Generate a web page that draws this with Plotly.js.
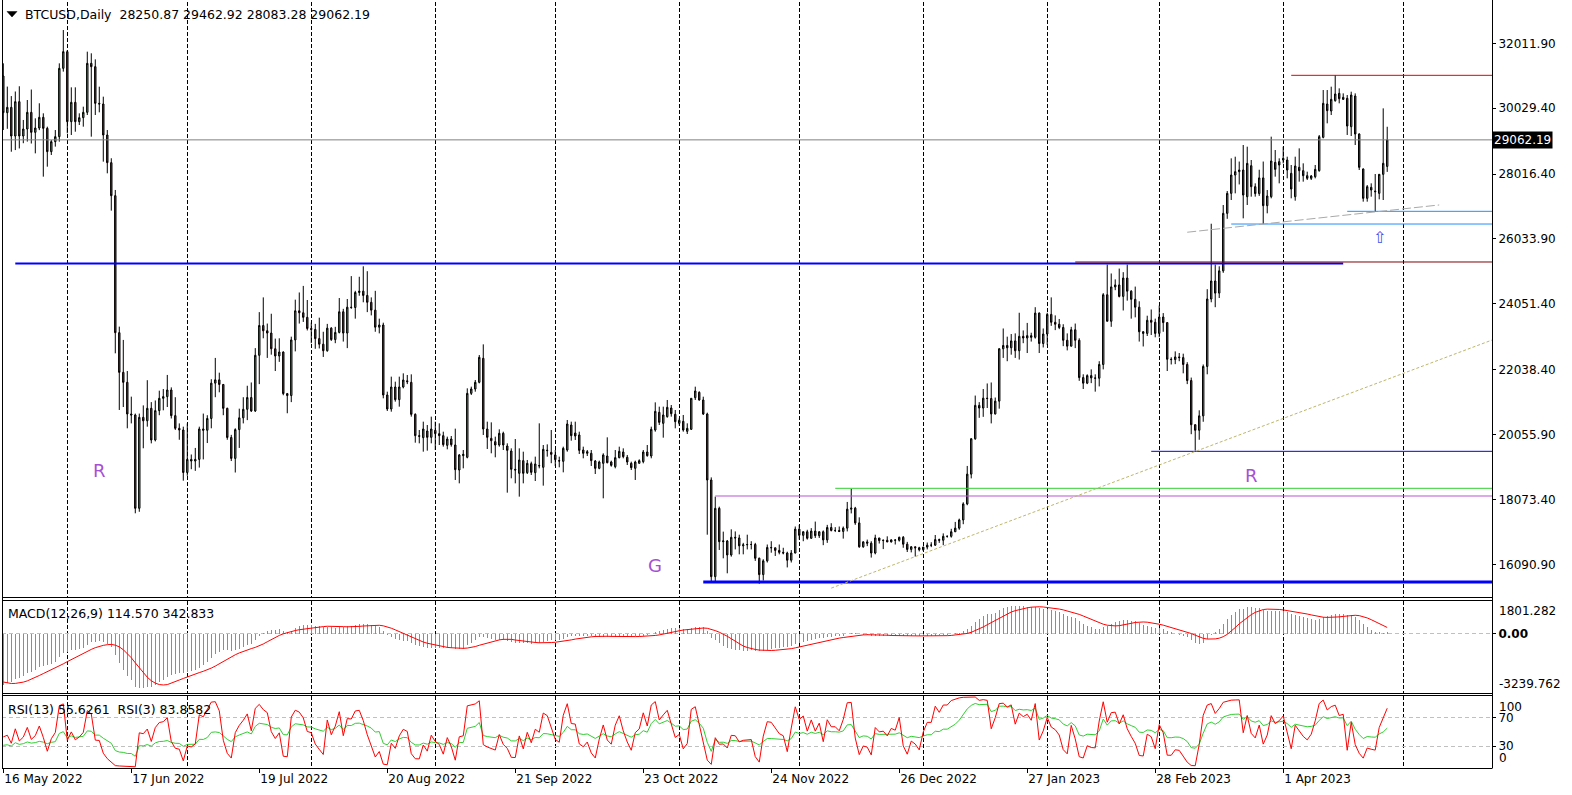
<!DOCTYPE html>
<html><head><meta charset="utf-8">
<script src="https://cdn.plot.ly/plotly-3.0.1.min.js"></script>
<style>html,body{margin:0;padding:0;background:#fff;overflow:hidden}#chart{width:1572px;height:795px}</style>
</head><body><div id="chart"></div>
<script>
// ---------------- DATA ----------------
const symbolTitle = 'BTCUSD,Daily';
const startDate = '2022-05-16';   // first daily bar, one bar per calendar day
const openP = [
31013,29893,30056,29180,30229,29180,29394,29903,29292,29424,
29751,29414,28702,29007,29160,31247,31757,29618,30209,29618,
29740,29903,31400,31298,30178,30158,29211,28366,27357,23172,
21960,21655,20688,20657,17806,20585,20480,20861,19893,20790,
21166,21217,21421,20637,20250,20199,18900,19300,19250,19300,
20230,20190,20550,21630,21730,21590,20860,19970,19330,20210,
20570,20830,21190,20780,22480,23390,23230,23160,22680,22460,
22580,21310,21250,22950,23840,23780,23640,23300,23270,22990,
22820,22620,23310,22960,23180,23810,23160,23950,23940,24400,
24440,24310,24100,23860,23340,23406,21268,20840,21512,21125,
21512,21700,21655,20677,20025,19964,20168,19974,20188,20086,
20025,19730,19923,19740,18976,19414,19364,21318,21451,21655,
22388,20229,19944,19842,19740,20097,19709,19557,18997,18875,
19262,18895,19170,18895,19099,19058,19567,19516,19435,19262,
19241,19587,20351,20107,20046,19587,19486,19486,19251,19027,
19180,19404,19221,19078,19353,19526,19364,19180,19027,19180,
19231,19526,19404,20198,20738,20402,20606,20870,20677,20402,
20463,20158,20219,21186,21349,21115,20687,18671,15718,17805,
16787,16808,16380,16920,16900,16660,16690,16700,16700,16280,
15780,16200,16610,16600,16520,16460,16440,16220,16440,17170,
16980,17090,16890,17110,16970,17090,16840,17220,17130,17130,
17100,17200,17780,17810,17360,16630,16780,16740,16440,16900,
16820,16830,16780,16840,16830,16920,16710,16550,16630,16600,
16540,16620,16680,16680,16850,16830,16950,16950,17090,17200,
17450,17940,18850,19930,20950,20870,21170,21160,20690,21080,
22680,22780,22710,22920,22620,23060,23010,23080,23030,23770,
22840,23130,23730,23490,23430,23330,22940,22760,23260,22940,
21800,21630,21860,21790,21780,22200,24330,23520,24570,24630,
24280,24840,24440,24190,23950,23200,23150,23550,23490,23150,
23650,23480,22360,22350,22430,22410,22200,21710,20360,20190,
20630,22140,24200,24750,24380,25060,26817,27428,27988,28090,
28141,27326,28273,27632,27420,27900,27052,27326,28375,28396,
28446,28446,28039,27326,28223,28121,27968,27887,27937,28121,
29139,30157,29944,30259,30483,30300,30331,29465,30402,29241,
28172,27276,27612,27500,27428,28009,28250.87];
const highP = [
31400,30690,30400,30540,30700,29670,30280,30600,29720,30180,
29873,29465,29058,29363,31400,32418,31808,30667,30667,29873,
30076,31757,31706,31522,30687,30382,29363,28500,27531,23356,
22950,22000,21217,20700,20700,20950,21720,21050,21100,21400,
21450,21880,21500,21200,20400,20300,20400,19450,19650,20300,
20700,20650,21750,22400,21950,21600,20880,20050,20250,20850,
21200,21550,21650,22700,23800,24250,23450,23750,22990,23000,
22600,21330,23050,24180,24400,24600,24170,23480,23440,23630,
23200,23440,23340,23350,24230,23900,24200,24900,24450,24880,
25200,25050,24250,24450,23600,23477,21369,21828,21675,21828,
21929,21879,21899,20707,20198,20453,20351,20606,20453,20402,
20147,19995,20015,20239,19465,19587,21471,21522,21726,22489,
22815,20453,20432,19995,20219,20147,19791,19638,19923,19638,
19536,19282,19231,19384,20402,19740,19760,20198,19587,19384,
19689,20504,20453,20453,20147,19689,19587,19587,19282,19262,
19486,19974,19262,19587,19689,19638,19435,19231,19262,19302,
19587,19740,20300,21043,20911,20911,21115,20962,20809,20555,
20657,20402,21166,21522,21380,21216,20728,18750,18162,17856,
17093,16838,17164,17100,17000,16750,17000,16800,16750,16300,
16250,16700,16800,16600,16700,16600,16480,16530,17250,17300,
17100,17150,17200,17400,17100,17130,17300,17350,17230,17250,
17250,18000,18400,17850,17530,16800,16850,16800,17000,16900,
16850,16950,16860,16860,16940,16960,16780,16650,16640,16630,
16630,16760,16770,16990,16880,17040,16970,17180,17390,17490,
17990,19100,19950,21250,21050,21450,21620,21650,21190,22700,
23300,23050,23130,23150,23780,23240,23470,23170,23950,23790,
23300,23780,24250,23700,23590,23430,23150,23350,23450,23000,
21900,21900,22050,21900,22300,24380,25250,24980,24800,25130,
25020,25250,24470,24580,24130,23220,23690,23880,23600,24000,
23770,23480,22420,22600,22550,22530,22270,21800,20370,20800,
22200,24500,26500,25250,25200,27072,27500,28498,28548,28400,
28905,28854,28447,27734,28150,28400,27530,29160,28752,28498,
28854,28548,28294,28548,28803,28345,28090,27988,28294,29211,
30585,30585,30687,31043,30636,30483,30432,30534,30483,29262,
28192,27683,27734,28019,28019,30025,29462.92];
const lowP = [
29363,29400,28700,28750,28800,28960,29010,28950,28650,29360,
27938,28243,28600,28855,29007,31146,29262,29211,29312,29516,
29465,29822,29160,29822,29903,28396,28040,26900,22541,20810,
20900,20250,20400,17653,17700,19640,20300,19790,19850,20650,
20800,20900,20550,20200,19900,18650,18800,19000,18950,19050,
19300,19800,20250,21200,21350,20650,19900,19250,18900,19650,
20400,20500,20750,20750,21600,23000,22400,22500,22000,22280,
21260,20710,21050,22600,23450,23500,23240,22850,22680,22690,
22430,22590,22920,22850,23150,22900,22700,23900,23600,24300,
24100,23800,23700,23200,23150,21166,20779,20758,21064,20911,
21471,21600,20606,19811,19791,19536,19567,19791,19587,19740,
19689,19608,19689,18671,18569,19027,19333,21268,21369,21624,
20046,19618,19486,19364,19689,19587,18284,18722,18569,18162,
18569,18854,18824,18640,19027,18498,19384,19184,19099,19058,
18905,19536,19872,19893,19465,19333,19404,19099,18854,19000,
18111,19180,19078,19027,19333,19333,19129,18976,18671,19180,
19180,19384,19333,20147,20351,19964,20575,20606,20249,20331,
20147,20076,20198,21115,21094,20657,17000,15565,15570,16533,
16278,15820,16329,16550,16400,16400,16550,16550,16200,15500,
15600,16150,16450,16350,16400,16400,16000,16150,16430,16850,
16800,16850,16880,16900,16900,16680,16750,17100,17080,17080,
16880,17100,17650,17300,16600,16600,16650,16300,16400,16730,
16560,16770,16760,16700,16790,16600,16470,16460,16330,16490,
16500,16550,16620,16660,16750,16680,16910,16910,17080,17150,
17320,17900,18720,19900,20570,20600,20870,20400,20670,20850,
22400,22300,22500,22400,22350,22850,22550,22900,22990,22550,
22720,22800,23380,23250,23280,22760,22630,22750,22700,21700,
21450,21600,21630,21370,21530,22050,23520,23350,24470,24250,
23850,24150,23600,23640,22900,22750,23070,23100,23030,23030,
23200,22000,22200,22210,22300,21930,21600,20070,19570,19900,
20450,21900,24100,23950,24230,25000,26650,27225,27428,27700,
26665,27072,27327,27327,27350,26492,26818,27276,27938,27734,
28345,27887,27276,27204,27785,27785,27836,27836,27887,28090,
29109,29567,29821,30229,30178,30280,29211,29180,28905,28141,
27174,27174,27327,26868,27245,27225,28083.28];
const closeP = [
29893,30056,29180,30229,29180,29394,29903,29292,29424,29751,
29414,28702,29007,29160,31247,31757,29618,30209,29618,29740,
29903,31400,31298,30178,30158,29211,28366,27357,23172,21960,
21655,20688,20657,17806,20585,20480,20861,19893,20790,21166,
21217,21421,20637,20250,20199,18900,19300,19250,19300,20230,
20190,20550,21630,21730,21590,20860,19970,19330,20210,20570,
20830,21190,20780,22480,23390,23230,23160,22680,22460,22580,
21310,21250,22950,23840,23780,23640,23300,23270,22990,22820,
22620,23310,22960,23180,23810,23160,23950,23940,24400,24440,
24310,24100,23860,23340,23406,21268,20840,21512,21125,21512,
21726,21675,20677,20025,20005,20229,19974,20229,20086,20025,
19750,19923,19750,18987,19435,19455,21318,21451,21655,22418,
20229,19974,19872,19740,20097,19740,19577,18997,18976,19282,
18875,19180,18905,19160,19110,19608,19577,19455,19292,19251,
19638,20382,20025,20015,19577,19486,19536,19262,19027,19221,
19435,19200,19119,19353,19547,19384,19221,19048,19221,19262,
19526,19414,20219,20768,20432,20657,20891,20697,20453,20494,
20198,20249,21166,21390,21115,20687,18671,15718,17805,16787,
16808,16380,16920,16900,16660,16690,16700,16700,16280,15780,
16200,16610,16600,16520,16460,16440,16220,16440,17170,16980,
17090,16890,17110,16970,17090,16840,17220,17130,17130,17100,
17200,17780,17810,17360,16630,16780,16740,16440,16900,16820,
16830,16780,16840,16830,16920,16710,16550,16630,16600,16540,
16620,16680,16680,16850,16830,16950,16950,17090,17200,17450,
17940,18850,19930,20950,20870,21170,21160,20690,21080,22680,
22780,22710,22920,22620,23060,23010,23080,23030,23770,22840,
23130,23730,23490,23430,23330,22940,22760,23260,22940,21800,
21630,21860,21790,21780,22200,24330,23520,24570,24630,24280,
24840,24440,24190,23950,23200,23150,23550,23490,23150,23650,
23480,22360,22350,22430,22410,22200,21710,20360,20190,20630,
22140,24200,24750,24380,25060,26817,27428,27988,28090,28141,
27377,28344,27632,27420,27900,27052,27347,28416,28161,28294,
28497,28141,27561,28263,28121,27968,27887,27958,28161,29160,
30178,29954,30300,30463,30320,30361,29485,30432,29241,28223,
27276,27632,27530,27479,28009,28345,29062.19];

// date-axis labels
const dateTickDates = ['2022-05-16','2022-06-17','2022-07-19','2022-08-20','2022-09-21','2022-10-23','2022-11-24','2022-12-26','2023-01-27','2023-02-28','2023-04-01'];
const dateTickLabels = ['16 May 2022','17 Jun 2022','19 Jul 2022','20 Aug 2022','21 Sep 2022','23 Oct 2022','24 Nov 2022','26 Dec 2022','27 Jan 2023','28 Feb 2023','1 Apr 2023'];
// price-axis labels
const priceTicks = [32011.90,30029.40,28016.40,26033.90,24051.40,22038.40,20055.90,18073.40,16090.90];
const priceTickLabels = ['32011.90','30029.40','28016.40','26033.90','24051.40','22038.40','20055.90','18073.40','16090.90'];
// indicator scale labels
const macdMaxLabel = '1801.282', macdMinLabel = '-3239.762';
const macdMax = 1801.282, macdMin = -3239.762;
const macdText = 'MACD(12,26,9) 114.570 342.833';
const rsiText = 'RSI(13) 55.6261\u00a0\u00a0RSI(3) 83.8582';
const rsiLevels = [70, 30];
const headerValues = '28250.87 29462.92 28083.28 29062.19';

// horizontal level lines drawn on the chart (price, first day, last day or null = right edge)
const levelPrice = [25285, 31034, 26879, 26491, 25331, 19547, 18417, 18182, 15555];
const levelFrom  = ['2022-05-19','2023-04-03','2023-04-17','2023-03-19','2023-02-08','2023-02-27','2022-12-10','2022-11-10','2022-11-07'];
const levelTo    = ['2023-04-16',null,null,null,null,null,null,null,null];
// trend lines (two anchor points each)
const trendFromDate = ['2022-12-09','2023-03-08'];
const trendFromPrice = [15367, 26240];
const trendToDate = ['2023-03-10','2023-05-10'];
const trendToPrice = [19542, 27073];
const trendExtendRight = [true, false];
// text objects
const labelText = ['R','G','R','\u21e7'];
const labelDate = ['2022-06-09','2022-10-26','2023-03-24','2023-04-25'];
const labelPrice = [18955, 16044, 18823, 26073];
const macdEma12Seed = 31300, macdEma26Seed = 34200;
const macdPrevMain = [-2200,-2350,-2500,-2600,-2700,-2750,-2800,-2850];
const rsi13Seed = [447, 900], rsi3Seed = [1200, 1031];

// ---------------- STYLES ----------------
const levelStyle = [
  {c:'#0000ff', w:2}, {c:'#e60000', w:1}, {c:'#1e90ff', w:1}, {c:'#1e90ff', w:1},
  {c:'#800000', w:1}, {c:'#0000dd', w:1}, {c:'#32cd32', w:1}, {c:'#ba55d3', w:1}, {c:'#0000ff', w:3}];
const trendStyle = [{c:'#bdb76b', w:1, d:'3px,2px'}, {c:'#a9a9a9', w:1, d:'9px,3px'}];
const labelStyle = [
  {c:'#a64fd6', s:18}, {c:'#a64fd6', s:18}, {c:'#a64fd6', s:18}, {c:'#3355ee', s:16}];
const FONT = 'DejaVu Sans, Verdana, sans-serif';

// ---------------- GEOMETRY ----------------
const DAY = 86400000;
const t0 = Date.parse(startDate + 'T00:00:00Z');
const toStr = ms => new Date(ms).toISOString().slice(0, 19).replace('T', ' ');
const msOf = s => Date.parse(s.length <= 10 ? s + 'T00:00:00Z' : s.replace(' ', 'T') + 'Z');
const dates = closeP.map((_, i) => toStr(t0 + i * DAY));
const xStartMs = t0 - 0.325 * DAY, xEndMs = t0 + 372.2 * DAY;
const xStart = toStr(xStartMs), xEnd = toStr(xEndMs);

const PT = 2, PB = 768, PL = 2, PR = 1492;
const py = p => (PB - p) / (PB - PT);
const pxp = x => (x - PL) / (PR - PL);

// ---------------- INDICATORS ----------------
const macdMain = [], macdSignal = [];
{
  let e12 = macdEma12Seed, e26 = macdEma26Seed;
  const hist = macdPrevMain.slice();
  closeP.forEach(c => {
    e12 += (2 / 13) * (c - e12);
    e26 += (2 / 27) * (c - e26);
    const m = e12 - e26;
    macdMain.push(m); hist.push(m);
    const last = hist.slice(-9);
    macdSignal.push(last.reduce((a, b) => a + b, 0) / last.length);
  });
}
function rsi(n, seed) {
  let g = seed[0], l = seed[1];
  return closeP.map((c, i) => {
    const ch = c - (i ? closeP[i - 1] : openP[0]);
    g = (g * (n - 1) + Math.max(ch, 0)) / n;
    l = (l * (n - 1) + Math.max(-ch, 0)) / n;
    return l === 0 ? 100 : 100 - 100 / (1 + g / l);
  });
}
const rsi13 = rsi(13, rsi13Seed), rsi3 = rsi(3, rsi3Seed);

// ---------------- TRACES ----------------
const traces = [];
// current price line
traces.push({type:'scatter', mode:'lines', x:[xStart, xEnd], y:[closeP[closeP.length-1], closeP[closeP.length-1]],
  line:{color:'#808080', width:1}, xaxis:'x', yaxis:'y', hoverinfo:'skip'});
levelPrice.forEach((p, i) => {
  traces.push({type:'scatter', mode:'lines', x:[levelFrom[i], levelTo[i] || xEnd], y:[p, p],
    line:{color:levelStyle[i].c, width:levelStyle[i].w}, xaxis:'x', yaxis:'y', hoverinfo:'skip'});
});
trendFromDate.forEach((d, i) => {
  const a = msOf(d), b = msOf(trendToDate[i]);
  let xe = b, ye = trendToPrice[i];
  if (trendExtendRight[i]) {
    const slope = (trendToPrice[i] - trendFromPrice[i]) / (b - a);
    xe = xEndMs; ye = trendFromPrice[i] + slope * (xEndMs - a);
  }
  traces.push({type:'scatter', mode:'lines', x:[d, toStr(xe)], y:[trendFromPrice[i], ye],
    line:{color:trendStyle[i].c, width:trendStyle[i].w, dash:trendStyle[i].d}, xaxis:'x', yaxis:'y', hoverinfo:'skip'});
});
traces.push({type:'candlestick', x:dates, open:openP, high:highP, low:lowP, close:closeP,
  xaxis:'x', yaxis:'y', whiskerwidth:0, hoverinfo:'skip',
  increasing:{line:{color:'#000000', width:1}, fillcolor:'#2ecc2e'},
  decreasing:{line:{color:'#000000', width:1}, fillcolor:'#e01010'}});
// MACD
traces.push({type:'bar', x:dates, y:macdMain, width:0.25 * DAY, marker:{color:'#32cd32', line:{width:0}},
  xaxis:'x', yaxis:'y2', hoverinfo:'skip'});
traces.push({type:'scatter', mode:'lines', x:dates, y:macdSignal, line:{color:'#ff0000', width:1},
  xaxis:'x', yaxis:'y2', hoverinfo:'skip'});
// RSI
traces.push({type:'scatter', mode:'lines', x:dates, y:rsi13, line:{color:'#32cd32', width:1},
  xaxis:'x', yaxis:'y3', hoverinfo:'skip'});
traces.push({type:'scatter', mode:'lines', x:dates, y:rsi3, line:{color:'#ff0000', width:1},
  xaxis:'x', yaxis:'y3', hoverinfo:'skip'});

// ---------------- LAYOUT ----------------
const blk = '#000000';
const shapes = [
  {type:'line', xref:'paper', yref:'paper', x0:0, x1:1, y0:py(597.5), y1:py(597.5), line:{color:blk, width:1}},
  {type:'line', xref:'paper', yref:'paper', x0:0, x1:1, y0:py(600.5), y1:py(600.5), line:{color:blk, width:1}},
  {type:'line', xref:'paper', yref:'paper', x0:0, x1:1, y0:py(693.5), y1:py(693.5), line:{color:blk, width:1}},
  {type:'line', xref:'paper', yref:'paper', x0:0, x1:1, y0:py(695.5), y1:py(695.5), line:{color:blk, width:1}},
  {type:'line', xref:'paper', yref:'paper', x0:pxp(2.5), x1:pxp(2.5), y0:py(768), y1:py(0), line:{color:blk, width:1}},
  {type:'line', xref:'paper', yref:'paper', x0:pxp(1492.5), x1:pxp(1492.5), y0:py(768.5), y1:py(0), line:{color:blk, width:1}},
  {type:'path', xref:'paper', yref:'paper', path:`M ${pxp(7)} ${py(11.5)} L ${pxp(17)} ${py(11.5)} L ${pxp(12)} ${py(17)} Z`,
   fillcolor:blk, line:{color:blk, width:0.5}}
];
const annotations = [
  {xref:'paper', yref:'paper', x:pxp(23), y:py(14.5), xanchor:'left', yanchor:'middle', showarrow:false,
   text:symbolTitle + '\u00a0\u00a0' + headerValues, font:{family:FONT, size:12.5, color:blk}},
  {xref:'paper', yref:'paper', x:pxp(5.5), y:py(613.5), xanchor:'left', yanchor:'middle', showarrow:false,
   text:macdText, font:{family:FONT, size:12.5, color:blk}},
  {xref:'paper', yref:'paper', x:pxp(5.5), y:py(709.5), xanchor:'left', yanchor:'middle', showarrow:false,
   text:rsiText, font:{family:FONT, size:12.5, color:blk}},
  {xref:'paper', yref:'paper', x:1, xshift:5, y:py(602), xanchor:'left', yanchor:'top', showarrow:false,
   text:macdMaxLabel, font:{family:FONT, size:12, color:blk}},
  {xref:'paper', yref:'paper', x:1, xshift:5, y:py(692.5), xanchor:'left', yanchor:'bottom', showarrow:false,
   text:macdMinLabel, font:{family:FONT, size:12, color:blk}},
  {xref:'paper', yref:'paper', x:1, xshift:5, y:py(698), xanchor:'left', yanchor:'top', showarrow:false,
   text:'100', font:{family:FONT, size:12, color:blk}},
  {xref:'paper', yref:'paper', x:1, xshift:5, y:py(767), xanchor:'left', yanchor:'bottom', showarrow:false,
   text:'0', font:{family:FONT, size:12, color:blk}},
  {xref:'paper', yref:'y', x:1, xshift:0, y:closeP[closeP.length-1], xanchor:'left', yanchor:'middle', showarrow:false,
   text:closeP[closeP.length-1].toFixed(2), font:{family:FONT, size:12, color:'#ffffff'}, bgcolor:'#000000', borderpad:1}
];
labelText.forEach((t, i) => annotations.push({xref:'x', yref:'y', x:labelDate[i], y:labelPrice[i],
  xanchor:'center', yanchor:'middle', showarrow:false, text:t,
  font:{family:FONT, size:labelStyle[i].s, color:labelStyle[i].c}}));

const layout = {
  width:1572, height:795, paper_bgcolor:'#ffffff', plot_bgcolor:'#ffffff',
  margin:{l:PL, r:1572 - PR, t:PT, b:795 - PB}, showlegend:false, boxgap:0.5, bargap:0,
  font:{family:FONT, size:12, color:blk},
  xaxis:{type:'date', range:[xStart, xEnd], anchor:'y3', tickmode:'array', tickvals:dateTickDates, ticktext:dateTickLabels,
    ticks:'outside', ticklen:4, tickcolor:blk, ticklabelposition:'outside right', showgrid:false, zeroline:false,
    showline:true, linecolor:blk, linewidth:1, rangeslider:{visible:false}, fixedrange:true,
    tickfont:{family:FONT, size:12, color:blk},
    minor:{tickmode:'linear', tick0:'2022-05-01', dtick:'M1', showgrid:true, gridcolor:blk, griddash:'4px,2px', gridwidth:1, ticks:''}},
  yaxis:{domain:[py(597.5), 1], range:[15081, 33274], side:'right', anchor:'x', tickmode:'array',
    tickvals:priceTicks, ticktext:priceTickLabels, ticks:'outside', ticklen:3, tickcolor:blk, showgrid:false,
    zeroline:false, showline:false, fixedrange:true, tickfont:{family:FONT, size:12, color:blk}},
  yaxis2:{domain:[py(693.5), py(600.5)], range:[macdMin, macdMax], side:'right', anchor:'x', tickmode:'array',
    tickvals:[0], ticktext:['<b>0.00</b>'], ticks:'outside', ticklen:3, tickcolor:blk, showgrid:true, gridcolor:'#c0c0c0',
    griddash:'4px,3px', zeroline:false, showline:false, fixedrange:true, tickfont:{family:FONT, size:12, color:blk}},
  yaxis3:{domain:[0, py(695.5)], range:[-1.4, 102.1], side:'right', anchor:'x', tickmode:'array',
    tickvals:rsiLevels, ticktext:rsiLevels.map(String), ticks:'outside', ticklen:3, tickcolor:blk, showgrid:true,
    gridcolor:'#c0c0c0', griddash:'4px,3px', zeroline:false, showline:false, fixedrange:true,
    tickfont:{family:FONT, size:12, color:blk}},
  shapes, annotations
};
Plotly.newPlot('chart', traces, layout, {displayModeBar:false, staticPlot:true});
</script>
</body></html>
